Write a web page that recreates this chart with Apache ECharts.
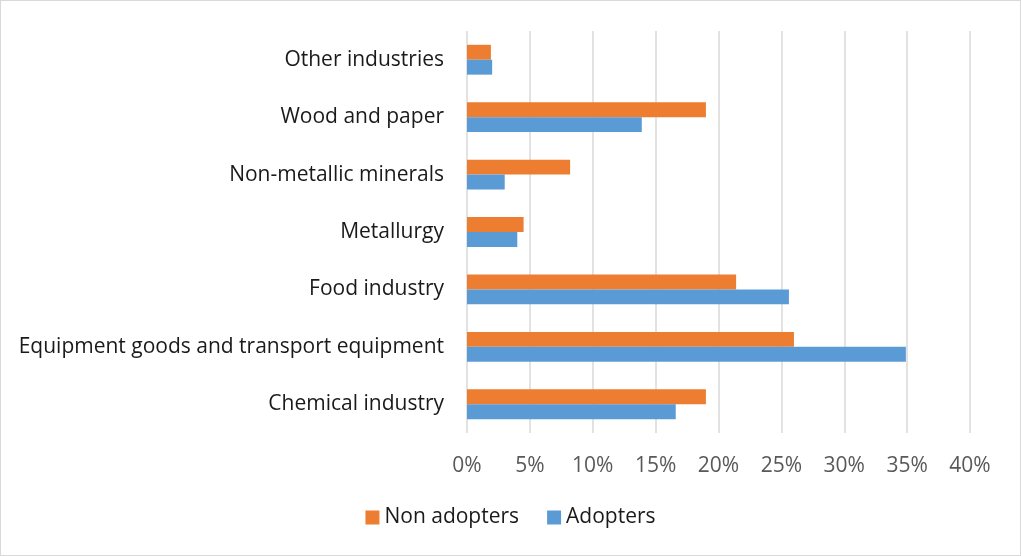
<!DOCTYPE html>
<html>
<head>
<meta charset="utf-8">
<script src="https://cdn.jsdelivr.net/npm/echarts@6/dist/echarts.min.js"></script>
<style>
  html, body { margin: 0; padding: 0; background: #fff; }
  #chart { width: 1021px; height: 556px; box-sizing: border-box; border: 1px solid #d9d9d9; }
</style>
</head>
<body>
<div id="chart"></div>
<script>
// Industry categories, bottom to top
const industries = [
  'Chemical industry',
  'Equipment goods and transport equipment',
  'Food industry',
  'Metallurgy',
  'Non-metallic minerals',
  'Wood and paper',
  'Other industries'
];
// Share of firms (%) in each industry
const nonAdopters = [19.0, 26.0, 21.4, 4.5, 8.2, 19.0, 1.9];
const adopters = [16.6, 34.9, 25.6, 4.0, 3.0, 13.9, 2.0];
const xTicks = { min: 0, max: 40, step: 5 };

const font = 'Open Sans';
const chart = echarts.init(document.getElementById('chart'));
chart.setOption({
  animation: false,
  textStyle: { fontFamily: font },
  grid: { left: 466, right: 50, top: 30, bottom: 122, containLabel: false },
  legend: {
    data: ['Non adopters', 'Adopters'],
    bottom: 22,
    left: 'center',
    itemWidth: 14,
    itemHeight: 14,
    itemGap: 28,
    icon: 'rect',
    textStyle: { fontFamily: font, fontSize: 21, color: '#1a1a1a' }
  },
  xAxis: {
    type: 'value',
    min: xTicks.min,
    max: xTicks.max,
    interval: xTicks.step,
    axisLine: { show: false },
    axisTick: { show: false },
    splitLine: { lineStyle: { color: '#d9d9d9', width: 1.5 } },
    axisLabel: {
      formatter: v => v + '%',
      color: '#595959',
      fontSize: 21,
      fontFamily: font,
      margin: 23
    }
  },
  yAxis: {
    type: 'category',
    data: industries,
    axisLine: { show: false },
    axisTick: { show: false },
    axisLabel: { color: '#1a1a1a', fontSize: 21, fontFamily: font, margin: 23, padding: [3, 0, 0, 0] }
  },
  series: [
    {
      name: 'Non adopters',
      type: 'bar',
      data: nonAdopters,
      itemStyle: { color: '#ED7D31' },
      barGap: '0%',
      barCategoryGap: '48%'
    },
    {
      name: 'Adopters',
      type: 'bar',
      data: adopters,
      itemStyle: { color: '#5B9BD5' },
      barGap: '0%',
      barCategoryGap: '48%'
    }
  ]
});
</script>
</body>
</html>
